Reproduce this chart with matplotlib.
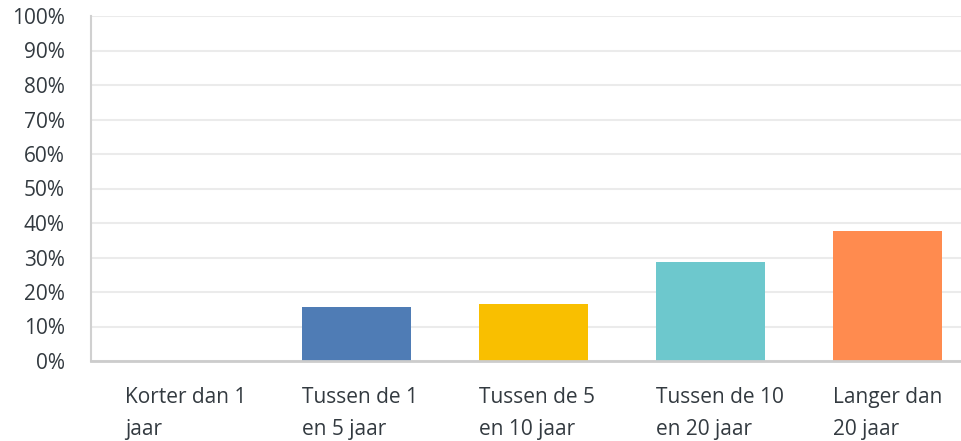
import matplotlib
matplotlib.use("Agg")
import matplotlib.pyplot as plt
import numpy as np

categories = ["Korter dan 1\njaar", "Tussen de 1\nen 5 jaar", "Tussen de 5\nen 10 jaar",
              "Tussen de 10\nen 20 jaar", "Langer dan\n20 jaar"]
values = [0.0, 15.7, 16.6, 28.8, 37.8]
colors = ["#4f7cb5", "#4f7cb5", "#f9bf00", "#6dc8cd", "#ff8b4f"]
yticks = list(range(0, 101, 10))

plt.rcParams['font.family'] = ['Open Sans', 'DejaVu Sans']

fig = plt.figure(figsize=(9.62, 4.41), dpi=100)
ax = fig.add_axes([91/962, 1 - 361/441, 871/962, 345/441])

x = np.arange(len(categories))
w = 0.616
ax.bar(x, values, width=w, color=colors, zorder=3)

ax.set_ylim(0, 100)
ax.set_xlim(-0.5, 871/177 - 0.5)
ax.set_yticks(yticks, [f"{t}%" for t in yticks])
ax.set_xticks(x - w/2, categories, ha='left', linespacing=1.68)
ax.tick_params(axis='both', length=0, labelsize=15, labelcolor="#333a40")
ax.tick_params(axis='y', pad=19)
ax.tick_params(axis='x', pad=19)

ax.grid(axis='y', color="#ebebeb", linewidth=1.5, zorder=0)
for s in ["top", "right"]:
    ax.spines[s].set_visible(False)
ax.spines["left"].set_color("#d0d0d0")
ax.spines["left"].set_linewidth(1.5)
ax.spines["bottom"].set_color("#cccccc")
ax.spines["bottom"].set_linewidth(2)
ax.spines["bottom"].set_zorder(4)

fig.savefig("out.png", dpi=100)
